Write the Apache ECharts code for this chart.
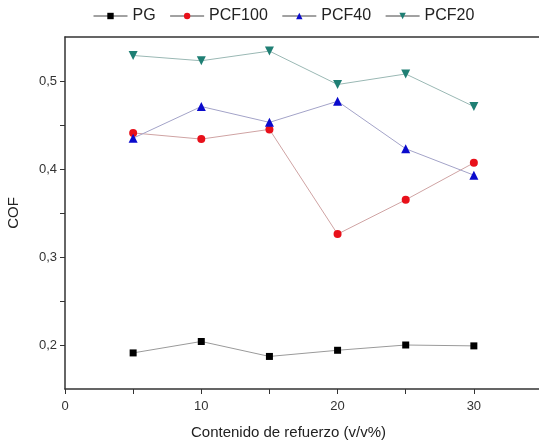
<!DOCTYPE html>
<html>
<head>
<meta charset="utf-8">
<style>
  html, body { margin: 0; padding: 0; background: #fff; overflow: hidden; }
  #chart { width: 546px; height: 445px; }
</style>
<script src="https://cdn.jsdelivr.net/npm/echarts@6/dist/echarts.min.js"></script>
</head>
<body>
<div id="chart"></div>
<script>
// contenido de refuerzo (v/v%)
var xValues = [5, 10, 15, 20, 25, 30];
var pg = [0.191, 0.204, 0.187, 0.194, 0.200, 0.199];
var pcf100 = [0.441, 0.434, 0.445, 0.326, 0.365, 0.407];
var pcf40 = [0.435, 0.471, 0.453, 0.477, 0.423, 0.393];
var pcf20 = [0.529, 0.523, 0.534, 0.496, 0.508, 0.471];
var yTickLabels = [0.2, 0.3, 0.4, 0.5];
var yTicks = [0.2, 0.25, 0.3, 0.35, 0.4, 0.45, 0.5];

function pairs(ys) {
  return xValues.map(function (x, i) { return [x, ys[i]]; });
}

var chart = echarts.init(document.getElementById("chart"));

function makeSeries(name, ys, symbol, color, lineColor, rotate, size) {
  return {
    name: name,
    type: "line",
    data: pairs(ys),
    symbol: symbol,
    symbolSize: size,
    symbolRotate: rotate,
    itemStyle: { color: color },
    lineStyle: { color: lineColor, width: 1 },
    emphasis: { disabled: true }
  };
}

var axisColor = "#333";
var option = {
  animation: false,
  textStyle: { fontFamily: "Liberation Sans, Arial, sans-serif" },
  legend: {
    top: 3,
    left: 88,
    itemGap: 14,
    itemWidth: 34,
    itemHeight: 8,
    lineStyle: { color: "#444", width: 1 },
    textStyle: { fontSize: 16, color: "#222" },
    data: ["PG", "PCF100", "PCF40", "PCF20"]
  },
  grid: {
    left: 65,
    top: 37,
    right: 4,
    bottom: 56,
    outerBoundsMode: "none"
  },
  xAxis: [{
    type: "value",
    min: 0,
    max: 35,
    interval: 10,
    name: "Contenido de refuerzo (v/v%)",
    nameLocation: "middle",
    nameGap: 36,
    nameTextStyle: { fontSize: 15, color: "#222", padding: [0, 30, 0, 0] },
    axisLine: { show: true, lineStyle: { color: axisColor, width: 1.5 } },
    axisTick: { show: true, length: 5, lineStyle: { color: axisColor } },
    minorTick: { show: true, splitNumber: 2, length: 5, lineStyle: { color: axisColor } },
    splitLine: { show: false },
    axisLabel: {
      fontSize: 13,
      color: "#333",
      margin: 11,
      formatter: function (v) { return v === 35 ? "" : String(v); }
    }
  }, {
    type: "value",
    position: "top",
    min: 0,
    max: 35,
    axisLine: { show: true, onZero: false, lineStyle: { color: axisColor, width: 1.5 } },
    axisTick: { show: false },
    axisLabel: { show: false },
    splitLine: { show: false }
  }],
  yAxis: {
    type: "value",
    min: 0.15,
    max: 0.55,
    name: "COF",
    nameLocation: "middle",
    nameGap: 44,
    nameTextStyle: { fontSize: 15, color: "#222" },
    axisLine: { show: true, lineStyle: { color: axisColor, width: 1.5 } },
    axisTick: { show: true, length: 5, customValues: yTicks, lineStyle: { color: axisColor } },
    splitLine: { show: false },
    axisLabel: {
      fontSize: 13,
      color: "#333",
      margin: 8,
      customValues: yTickLabels,
      formatter: function (v) { return v.toFixed(1).replace(".", ","); }
    }
  },
  series: [
    makeSeries("PG", pg, "rect", "#000000", "#9a9a9a", 0, 7),
    makeSeries("PCF100", pcf100, "circle", "#e8101a", "#cfa3a3", 0, 8),
    makeSeries("PCF40", pcf40, "triangle", "#0a0acc", "#a3a3c8", 0, 9),
    makeSeries("PCF20", pcf20, "triangle", "#1f7f74", "#9ab8b4", 180, 9)
  ]
};

chart.setOption(option);
</script>
</body>
</html>
